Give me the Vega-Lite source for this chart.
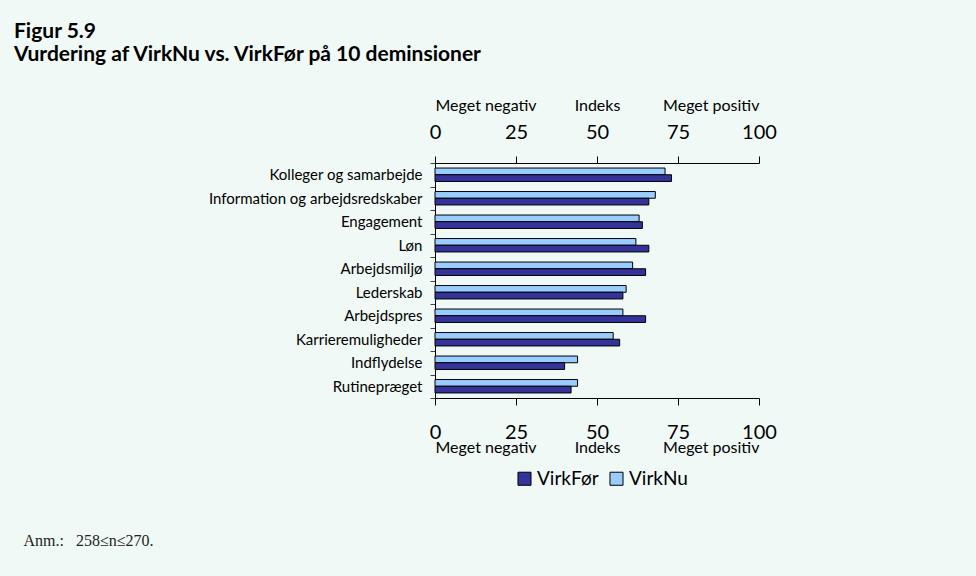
{
  "$schema": "https://vega.github.io/schema/vega-lite/v6.json",
  "autosize": "none",
  "width": 324,
  "height": 235,
  "padding": {"left": 435, "top": 163, "right": 217, "bottom": 178},
  "background": "#f1f9f6",
  "config": {
    "view": {"stroke": null},
    "font": "Lato",
    "axis": {"labelColor": "#000", "tickColor": "#000", "domainColor": "#000", "grid": false, "labelFont": "Lato"}
  },
  "title": {
    "text": "Figur 5.9",
    "subtitle": "Vurdering af VirkNu vs. VirkFør på 10 deminsioner",
    "anchor": "start",
    "frame": "group",
    "font": "Lato",
    "fontSize": 21,
    "fontWeight": "bold",
    "color": "#000",
    "subtitleFont": "Lato",
    "subtitleFontSize": 21,
    "subtitleFontWeight": "bold",
    "subtitleColor": "#000",
    "subtitlePadding": 2,
    "dx": -421,
    "offset": 32
  },
  "data": {
    "values": [
      {"dim": "Kolleger og samarbejde", "serie": "VirkNu", "v": 71},
      {"dim": "Kolleger og samarbejde", "serie": "VirkFør", "v": 73},
      {"dim": "Information og arbejdsredskaber", "serie": "VirkNu", "v": 68},
      {"dim": "Information og arbejdsredskaber", "serie": "VirkFør", "v": 66},
      {"dim": "Engagement", "serie": "VirkNu", "v": 63},
      {"dim": "Engagement", "serie": "VirkFør", "v": 64},
      {"dim": "Løn", "serie": "VirkNu", "v": 62},
      {"dim": "Løn", "serie": "VirkFør", "v": 66},
      {"dim": "Arbejdsmiljø", "serie": "VirkNu", "v": 61},
      {"dim": "Arbejdsmiljø", "serie": "VirkFør", "v": 65},
      {"dim": "Lederskab", "serie": "VirkNu", "v": 59},
      {"dim": "Lederskab", "serie": "VirkFør", "v": 58},
      {"dim": "Arbejdspres", "serie": "VirkNu", "v": 58},
      {"dim": "Arbejdspres", "serie": "VirkFør", "v": 65},
      {"dim": "Karrieremuligheder", "serie": "VirkNu", "v": 55},
      {"dim": "Karrieremuligheder", "serie": "VirkFør", "v": 57},
      {"dim": "Indflydelse", "serie": "VirkNu", "v": 44},
      {"dim": "Indflydelse", "serie": "VirkFør", "v": 40},
      {"dim": "Rutinepræget", "serie": "VirkNu", "v": 44},
      {"dim": "Rutinepræget", "serie": "VirkFør", "v": 42}
    ]
  },
  "resolve": {"axis": {"x": "independent"}},
  "encoding": {
    "y": {
      "field": "dim",
      "type": "nominal",
      "sort": ["Kolleger og samarbejde", "Information og arbejdsredskaber", "Engagement", "Løn", "Arbejdsmiljø", "Lederskab", "Arbejdspres", "Karrieremuligheder", "Indflydelse", "Rutinepræget"],
      "scale": {"paddingInner": 0, "paddingOuter": 0},
      "axis": {"title": null, "labelFontSize": 15, "labelLimit": 0, "tickSize": 5, "labelPadding": 8, "tickBand": "extent", "tickColor": "#444"}
    },
    "yOffset": {
      "field": "serie",
      "type": "nominal",
      "scale": {"domain": ["VirkNu", "VirkFør"], "paddingInner": 0, "paddingOuter": 0.75}
    }
  },
  "layer": [
    {
      "mark": {"type": "bar", "stroke": "#000", "strokeWidth": 1},
      "encoding": {
        "x": {
          "field": "v", "type": "quantitative",
          "scale": {"domain": [0, 100], "nice": false},
          "axis": {"orient": "top", "title": null, "values": [0, 25, 50, 75, 100], "labelFontSize": 20, "tickSize": 7, "labelBaseline": "alphabetic", "labelPadding": 18, "labelFlush": false}
        },
        "color": {
          "field": "serie", "type": "nominal",
          "scale": {"domain": ["VirkFør", "VirkNu"], "range": ["#333399", "#99ccff"]},
          "legend": {
            "orient": "none", "legendX": 80, "legendY": 306, "direction": "horizontal", "title": null,
            "symbolType": "square", "symbolSize": 170, "symbolStrokeColor": "#000", "symbolStrokeWidth": 1,
            "labelFontSize": 19, "labelFont": "Lato", "labelColor": "#000", "labelOffset": 3, "columnPadding": 8
          }
        }
      }
    },
    {
      "mark": {"type": "bar", "opacity": 0},
      "encoding": {
        "x": {
          "field": "v", "type": "quantitative",
          "axis": {"orient": "bottom", "title": null, "values": [0, 25, 50, 75, 100], "labelFontSize": 20, "tickSize": 7, "labelBaseline": "alphabetic", "labelPadding": 33, "labelFlush": false}
        }
      }
    },
    {
      "mark": {"type": "bar", "opacity": 0},
      "encoding": {
        "x": {
          "field": "v", "type": "quantitative",
          "axis": {
            "orient": "top", "title": null, "values": [0, 50, 100], "domain": false, "ticks": false,
            "labelExpr": "datum.value == 0 ? 'Meget negativ' : datum.value == 50 ? 'Indeks' : 'Meget positiv'",
            "labelAlign": {"expr": "datum.value == 0 ? 'left' : datum.value == 100 ? 'right' : 'center'"},
            "labelFontSize": 16, "labelBaseline": "alphabetic", "labelPadding": 53, "labelFlush": false
          }
        }
      }
    },
    {
      "mark": {"type": "bar", "opacity": 0},
      "encoding": {
        "x": {
          "field": "v", "type": "quantitative",
          "axis": {
            "orient": "bottom", "values": [0, 50, 100], "domain": false, "ticks": false,
            "labelExpr": "datum.value == 0 ? 'Meget negativ' : datum.value == 50 ? 'Indeks' : 'Meget positiv'",
            "labelAlign": {"expr": "datum.value == 0 ? 'left' : datum.value == 100 ? 'right' : 'center'"},
            "labelFontSize": 16, "labelBaseline": "alphabetic", "labelPadding": 54, "labelFlush": false,
            "title": "Anm.:\u00a0\u00a0\u00a0258≤n≤270.",
            "titleFont": "Liberation Serif", "titleFontSize": 16, "titleFontWeight": "normal", "titleColor": "#222",
            "titleAlign": "left", "titleAnchor": "start", "titleBaseline": "alphabetic",
            "titleX": -412, "titleY": 147
          }
        }
      }
    }
  ]
}
